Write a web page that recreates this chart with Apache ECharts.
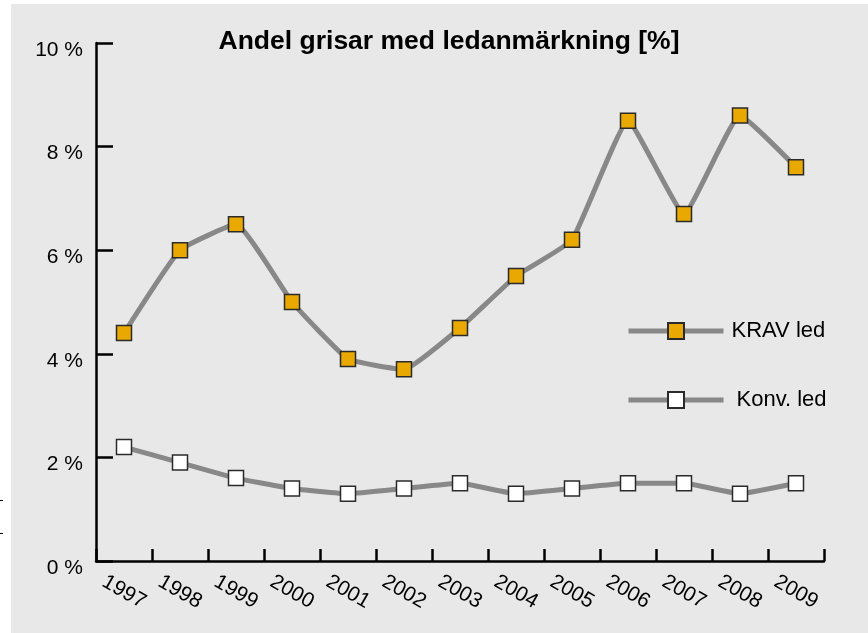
<!DOCTYPE html>
<html>
<head>
<meta charset="utf-8">
<script src="https://cdn.jsdelivr.net/npm/echarts@6/dist/echarts.min.js"></script>
<style>html,body{margin:0;padding:0;background:#fff;}#c{width:868px;height:633px;}</style>
</head>
<body>
<div id="c"></div>
<script>
var years = ['1997','1998','1999','2000','2001','2002','2003','2004','2005','2006','2007','2008','2009'];
var kravLed = [4.4, 6.0, 6.5, 5.0, 3.9, 3.7, 4.5, 5.5, 6.2, 8.5, 6.7, 8.6, 7.6];
var konvLed = [2.2, 1.9, 1.6, 1.4, 1.3, 1.4, 1.5, 1.3, 1.4, 1.5, 1.5, 1.3, 1.5];
var seriesNames = ['KRAV led', 'Konv. led'];
var titleText = 'Andel grisar med ledanmärkning [%]';

var FONT = '"Liberation Sans", Arial, Helvetica, sans-serif';
var chart = echarts.init(document.getElementById('c'), null, {renderer: 'canvas'});
chart.setOption({
  backgroundColor: '#ffffff',
  animation: false,
  graphic: [
    {type: 'rect', z: -100, shape: {x: 11, y: 4, width: 857, height: 629}, style: {fill: '#e8e8e8'}},
    {type: 'line', z: -100, shape: {x1: 0, y1: 500.5, x2: 3, y2: 500.5}, style: {stroke: '#000', lineWidth: 1}},
    {type: 'line', z: -100, shape: {x1: 0, y1: 533.5, x2: 3, y2: 533.5}, style: {stroke: '#000', lineWidth: 1}}
  ],
  title: {
    text: titleText,
    left: 444,
    textAlign: 'center',
    top: 23,
    textStyle: {fontFamily: FONT, fontWeight: 'bold', fontSize: 26.5, color: '#000'}
  },
  legend: {
    orient: 'vertical',
    left: 621,
    top: 315,
    itemWidth: 95,
    itemHeight: 20,
    itemGap: 47,
    lineStyle: {width: 5},
    data: [
      {name: seriesNames[0], textStyle: {padding: [0, 0, 0, 3]}},
      {name: seriesNames[1], textStyle: {padding: [0, 0, 0, 8]}}
    ],
    textStyle: {fontFamily: FONT, fontSize: 22, color: '#000'}
  },
  grid: {left: 96, right: 44, top: 43, bottom: 72, containLabel: false},
  xAxis: {
    type: 'category',
    data: years,
    boundaryGap: true,
    axisLine: {show: true, lineStyle: {color: '#000', width: 2.5}},
    axisTick: {show: true, inside: true, length: 12, lineStyle: {color: '#000', width: 2.5}},
    axisLabel: {
      rotate: -30, align: 'center', verticalAlign: 'middle', margin: 31,
      fontFamily: FONT, fontSize: 21, color: '#000'
    },
    splitLine: {show: false}
  },
  yAxis: {
    type: 'value',
    min: 0, max: 10, interval: 2,
    axisLine: {show: true, lineStyle: {color: '#000', width: 2.5}},
    axisTick: {show: true, inside: true, length: 17, lineStyle: {color: '#000', width: 2.5}},
    axisLabel: {
      formatter: '{value} %', margin: 13, verticalAlign: 'top', lineHeight: 14,
      fontFamily: FONT, fontSize: 21, color: '#000'
    },
    splitLine: {show: false}
  },
  series: [
    {
      name: seriesNames[0], type: 'line', data: kravLed, smooth: 0.12,
      symbol: 'rect', symbolSize: 15,
      lineStyle: {color: '#888888', width: 5},
      itemStyle: {color: '#e9a900', borderColor: '#2a2a2a', borderWidth: 1.5}
    },
    {
      name: seriesNames[1], type: 'line', data: konvLed, smooth: 0.12,
      symbol: 'rect', symbolSize: 15,
      lineStyle: {color: '#888888', width: 5},
      itemStyle: {color: '#ffffff', borderColor: '#2a2a2a', borderWidth: 1.5}
    }
  ]
});
</script>
</body>
</html>
